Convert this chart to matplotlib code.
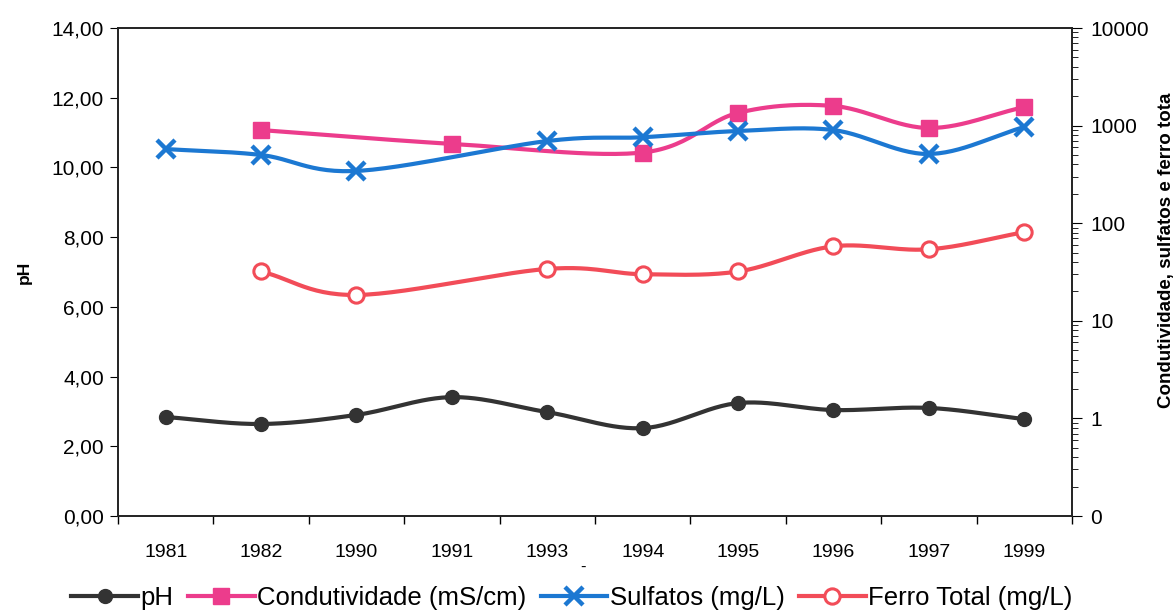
import numpy as np
import matplotlib
matplotlib.use("Agg")
import matplotlib.pyplot as plt
from matplotlib.lines import Line2D
from matplotlib.ticker import FixedLocator, FuncFormatter, LogLocator, NullFormatter

plt.rcParams['font.family'] = ['Liberation Sans', 'DejaVu Sans']

years = ['1981', '1982', '1990', '1991', '1993', '1994', '1995', '1996', '1997', '1999']
ph = [2.84, 2.64, 2.90, 3.41, 2.98, 2.52, 3.24, 3.04, 3.10, 2.78]
condutividade = [np.nan, 900, np.nan, 650, np.nan, 530, 1350, 1590, 945, 1550]
sulfatos = [575, 500, 343, np.nan, 695, 760, 880, 900, 512, 968]
ferro = [np.nan, 32, 18.4, np.nan, 34, 30, 32, 58, 54, 81]

c_ph = '#333333'
c_cond = '#ec3c8c'
c_sulf = '#1c78d2'
c_fe = '#f24c58'


def smooth(x, y, n=30):
    """Excel-like smoothed line through the given points (cubic Bezier segments)."""
    x = np.asarray(x, float)
    y = np.asarray(y, float)
    if len(x) < 3:
        return x, y
    px = np.concatenate([[2 * x[0] - x[1]], x, [2 * x[-1] - x[-2]]])
    py = np.concatenate([[2 * y[0] - y[1]], y, [2 * y[-1] - y[-2]]])
    xs, ys = [], []
    t = np.linspace(0, 1, n)
    for i in range(1, len(px) - 2):
        p0x, p1x, p2x, p3x = px[i - 1:i + 3]
        p0y, p1y, p2y, p3y = py[i - 1:i + 3]
        c1x = p1x + (p2x - p0x) / 6
        c1y = p1y + (p2y - p0y) / 6
        c2x = p2x - (p3x - p1x) / 6
        c2y = p2y - (p3y - p1y) / 6
        bx = (1 - t) ** 3 * p1x + 3 * (1 - t) ** 2 * t * c1x + 3 * (1 - t) * t ** 2 * c2x + t ** 3 * p2x
        by = (1 - t) ** 3 * p1y + 3 * (1 - t) ** 2 * t * c1y + 3 * (1 - t) * t ** 2 * c2y + t ** 3 * p2y
        xs.append(bx)
        ys.append(by)
    return np.concatenate(xs), np.concatenate(ys)


fig = plt.figure(figsize=(11.76, 6.12), dpi=100)
ax = fig.add_axes([118 / 1176, 1 - 516 / 612, (1072 - 118) / 1176, (516 - 28) / 612])
ax2 = ax.twinx()

xpos = np.arange(len(years))
lw = 3.0

# pH (left axis)
vals = np.array(ph, float)
m = ~np.isnan(vals)
sx, sy = smooth(xpos[m], vals[m])
ax.plot(sx, sy, color=c_ph, lw=lw, zorder=3)
ax.plot(xpos[m], vals[m], 'o', color=c_ph, ms=10, zorder=4)


def plot_log(values, color, marker, ms, mfc, mew):
    v = np.array(values, float)
    mm = ~np.isnan(v)
    sx, sy = smooth(xpos[mm], np.log10(v[mm]))
    ax2.plot(sx, 10 ** sy, color=color, lw=lw, zorder=3)
    ax2.plot(xpos[mm], v[mm], marker, linestyle='none', color=color, ms=ms,
             mfc=mfc, mec=color, mew=mew, zorder=4)


plot_log(condutividade, c_cond, 's', 11, c_cond, 1)
plot_log(sulfatos, c_sulf, 'x', 13, c_sulf, 3.2)
plot_log(ferro, c_fe, 'o', 11, 'white', 2.2)

# Axes formatting
ax.set_xlim(-0.5, len(years) - 0.5)
ax.set_ylim(0, 14)
ax.set_yticks(np.arange(0, 15, 2))
ax.yaxis.set_major_formatter(FuncFormatter(lambda v, p: f"{v:.2f}".replace('.', ',')))
ax.xaxis.set_major_locator(FixedLocator(np.arange(-0.5, len(years), 1)))
ax.xaxis.set_major_formatter(NullFormatter())
ax.set_xticks(xpos, minor=True)
ax.set_xticklabels(years, minor=True)
ax.tick_params(axis='x', which='minor', length=0, pad=20, labelsize=14)
ax.tick_params(axis='x', which='major', length=6, direction='out', width=1)
ax.tick_params(axis='y', length=6, direction='out', labelsize=15, pad=4)

ax2.set_yscale('log')
ax2.set_ylim(0.1, 10000)
ax2.yaxis.set_major_locator(FixedLocator([0.1, 1, 10, 100, 1000, 10000]))
ax2.yaxis.set_major_formatter(FuncFormatter(lambda v, p: '0' if v < 1 else f"{v:.0f}"))
ax2.yaxis.set_minor_locator(LogLocator(base=10, subs=np.arange(2, 10), numticks=20))
ax2.yaxis.set_minor_formatter(NullFormatter())
ax2.tick_params(axis='y', which='major', length=7, direction='out', labelsize=15, pad=6)
ax2.tick_params(axis='y', which='minor', length=4, direction='out')

for a in (ax, ax2):
    for s in a.spines.values():
        s.set_color('#222222')
        s.set_linewidth(1.2)

ax.set_ylabel('pH', fontsize=12.5, fontweight='bold')
ax.yaxis.set_label_coords(-(118 - 32) / 954, 0.5)
ax.set_xlabel('-', fontsize=12)
ax.xaxis.set_label_coords((583 - 118) / 954, -(560 - 516) / 488)
fig.text(1166 / 1176, 1 - 250 / 612, 'Condutividade, sulfatos e ferro tota',
         rotation=90, ha='center', va='center', fontsize=13.5, fontweight='bold')

handles = [
    Line2D([], [], color=c_ph, lw=lw, marker='o', ms=10),
    Line2D([], [], color=c_cond, lw=lw, marker='s', ms=11),
    Line2D([], [], color=c_sulf, lw=lw, marker='x', ms=13, mew=3.2),
    Line2D([], [], color=c_fe, lw=lw, marker='o', ms=11, mfc='white', mec=c_fe, mew=2.2),
]
labels = ['pH', 'Condutividade (mS/cm)', 'Sulfatos (mg/L)', 'Ferro Total (mg/L)']
fig.legend(handles, labels, loc='center', bbox_to_anchor=(572 / 1176, 1 - 598 / 612),
           ncol=4, frameon=False, fontsize=18.5, handlelength=2.6, handletextpad=0.1,
           columnspacing=0.55, borderpad=0.1)

fig.savefig('out.png', dpi=100)
